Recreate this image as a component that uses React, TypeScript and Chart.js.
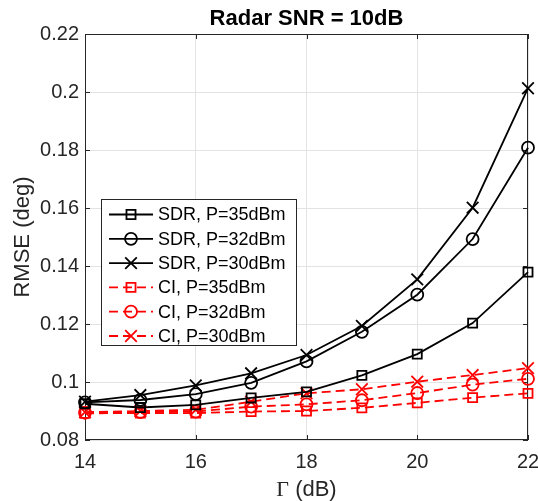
import React, { useEffect, useRef } from "react";
import { Chart, registerables } from "chart.js";

Chart.register(...registerables);

// ---- data ----
const gammaDb = [14, 15, 16, 17, 18, 19, 20, 21, 22];
const sdrP35 = [0.0925, 0.0912, 0.0921, 0.0945, 0.0966, 0.1023, 0.1096, 0.1203, 0.1379];
const sdrP32 = [0.0930, 0.0938, 0.0958, 0.0997, 0.1071, 0.1173, 0.1301, 0.1493, 0.1808];
const sdrP30 = [0.0932, 0.0955, 0.0988, 0.1030, 0.1093, 0.1193, 0.1354, 0.1601, 0.2013];
const ciP35 = [0.0892, 0.0893, 0.0893, 0.0898, 0.0900, 0.0911, 0.0928, 0.0946, 0.0961];
const ciP32 = [0.0894, 0.0896, 0.0898, 0.0915, 0.0923, 0.0937, 0.0962, 0.0991, 0.1011];
const ciP30 = [0.0896, 0.0900, 0.0904, 0.0932, 0.0961, 0.0975, 0.1001, 0.1024, 0.1048];
const seriesLabels = [
  "SDR, P=35dBm",
  "SDR, P=32dBm",
  "SDR, P=30dBm",
  "CI, P=35dBm",
  "CI, P=32dBm",
  "CI, P=30dBm",
];
const titleText = "Radar SNR = 10dB";
const yLabelText = "RMSE (deg)";
const xLabelSymbol = "Γ";
const xLabelRest = " (dB)";

const AXIS = "#262626";
const GRID = "#e3e3e3";
const SANS = "'Liberation Sans', Arial, Helvetica, sans-serif";
const SERIF = "'Liberation Serif', 'Times New Roman', serif";
const DASH = [9, 5];
const LW = 1.8;

type Style = { color: string; shape: string; dashed: boolean; radius: number };
const styles: Style[] = [
  { color: "#000000", shape: "rect", dashed: false, radius: 6.4 },
  { color: "#000000", shape: "circle", dashed: false, radius: 6 },
  { color: "#000000", shape: "crossRot", dashed: false, radius: 8.2 },
  { color: "#ff0000", shape: "rect", dashed: true, radius: 6.4 },
  { color: "#ff0000", shape: "circle", dashed: true, radius: 6 },
  { color: "#ff0000", shape: "crossRot", dashed: true, radius: 8.2 },
];
const seriesValues = [sdrP35, sdrP32, sdrP30, ciP35, ciP32, ciP30];

function drawMarker(ctx: CanvasRenderingContext2D, shape: string, x: number, y: number, r: number) {
  ctx.beginPath();
  if (shape === "rect") {
    const s = Math.SQRT1_2 * r;
    ctx.rect(x - s, y - s, 2 * s, 2 * s);
  } else if (shape === "circle") {
    ctx.arc(x, y, r, 0, Math.PI * 2);
  } else {
    const o = Math.cos(Math.PI / 4) * r;
    ctx.moveTo(x - o, y - o);
    ctx.lineTo(x + o, y + o);
    ctx.moveTo(x - o, y + o);
    ctx.lineTo(x + o, y - o);
  }
  ctx.stroke();
}

const decor = {
  id: "decor",
  beforeDatasetsDraw(chart: any) {
    const { ctx, chartArea: a, scales } = chart;
    ctx.save();
    ctx.strokeStyle = AXIS;
    ctx.lineWidth = 1;
    ctx.strokeRect(Math.round(a.left) + 0.5, Math.round(a.top) + 0.5, Math.round(a.right - a.left) - 1, Math.round(a.bottom - a.top) - 1);
    const tl = 5;
    ctx.beginPath();
    scales.x.ticks.forEach((t: any) => {
      const px = Math.round(scales.x.getPixelForValue(t.value)) + 0.5;
      ctx.moveTo(px, a.bottom);
      ctx.lineTo(px, a.bottom - tl);
      ctx.moveTo(px, a.top);
      ctx.lineTo(px, a.top + tl);
    });
    scales.y.ticks.forEach((t: any) => {
      const py = Math.round(scales.y.getPixelForValue(t.value)) + 0.5;
      ctx.moveTo(a.left, py);
      ctx.lineTo(a.left + tl, py);
      ctx.moveTo(a.right, py);
      ctx.lineTo(a.right - tl, py);
    });
    ctx.stroke();
    ctx.restore();
  },
  afterDraw(chart: any) {
    const { ctx, chartArea: a } = chart;
    ctx.save();
    const cx = (a.left + a.right) / 2;
    // title
    ctx.fillStyle = "#000";
    ctx.font = `bold 22px ${SANS}`;
    ctx.textAlign = "center";
    ctx.textBaseline = "middle";
    ctx.fillText(titleText, cx, 19);
    // x label
    ctx.fillStyle = AXIS;
    ctx.font = `22px ${SERIF}`;
    const w1 = ctx.measureText(xLabelSymbol).width;
    ctx.font = `22px ${SANS}`;
    const w2 = ctx.measureText(xLabelRest).width;
    const x0 = cx - (w1 + w2) / 2;
    ctx.textAlign = "left";
    ctx.font = `22px ${SERIF}`;
    ctx.fillText(xLabelSymbol, x0, 490);
    ctx.font = `22px ${SANS}`;
    ctx.fillText(xLabelRest, x0 + w1, 490);
    // y label
    ctx.save();
    ctx.translate(23, (a.top + a.bottom) / 2);
    ctx.rotate(-Math.PI / 2);
    ctx.textAlign = "center";
    ctx.fillText(yLabelText, 0, 0);
    ctx.restore();
    // legend
    const bx = 101.5, by = 199.5, bw = 195, bh = 146;
    ctx.fillStyle = "#fff";
    ctx.fillRect(bx, by, bw, bh);
    ctx.strokeStyle = AXIS;
    ctx.lineWidth = 1;
    ctx.strokeRect(bx, by, bw, bh);
    ctx.font = `18px ${SANS}`;
    ctx.textAlign = "left";
    ctx.textBaseline = "middle";
    for (let i = 0; i < seriesLabels.length; i++) {
      const st = styles[i];
      const y = 214.5 + i * 24.3;
      ctx.strokeStyle = st.color;
      ctx.lineWidth = LW;
      ctx.setLineDash(st.dashed ? DASH : []);
      ctx.beginPath();
      ctx.moveTo(109, y);
      ctx.lineTo(153, y);
      ctx.stroke();
      ctx.setLineDash([]);
      drawMarker(ctx, st.shape, 131, y, st.radius);
      ctx.fillStyle = "#000";
      ctx.fillText(seriesLabels[i], 158, y + 1);
    }
    ctx.restore();
  },
};

export default function App() {
  const ref = useRef<HTMLCanvasElement>(null);
  useEffect(() => {
    if (!ref.current) return;
    const datasets = seriesValues.map((vals, i) => {
      const st = styles[i];
      return {
        label: seriesLabels[i],
        data: gammaDb.map((g, j) => ({ x: g, y: vals[j] })),
        borderColor: st.color,
        backgroundColor: "rgba(0,0,0,0)",
        borderWidth: LW,
        borderDash: st.dashed ? DASH : [],
        pointStyle: st.shape,
        pointRadius: st.radius,
        pointHoverRadius: st.radius,
        pointBorderColor: st.color,
        pointBackgroundColor: "rgba(0,0,0,0)",
        pointBorderWidth: LW,
        tension: 0,
        fill: false,
        clip: false as any,
      };
    });
    const chart = new Chart(ref.current, {
      type: "line",
      data: { datasets },
      options: {
        animation: false,
        responsive: false,
        devicePixelRatio: 1,
        layout: { padding: { top: 34, right: 9, left: 0, bottom: 0 } },
        plugins: { legend: { display: false }, tooltip: { enabled: false }, title: { display: false } },
        scales: {
          x: {
            type: "linear",
            min: 14,
            max: 22,
            afterFit: (s: any) => {
              s.height = 61;
              s.paddingLeft = 0;
              s.paddingRight = 0;
            },
            ticks: { stepSize: 2, color: AXIS, font: { family: SANS, size: 20 }, padding: 10, maxRotation: 0 },
            grid: { color: GRID, drawTicks: false, lineWidth: 1 },
            border: { display: false },
          },
          y: {
            type: "linear",
            min: 0.08,
            max: 0.22,
            afterFit: (s: any) => {
              s.width = 85;
            },
            ticks: {
              stepSize: 0.02,
              color: AXIS,
              font: { family: SANS, size: 20 },
              padding: 6,
              callback: (v: any) => String(Number(Number(v).toFixed(2))),
            },
            grid: { color: GRID, drawTicks: false, lineWidth: 1 },
            border: { display: false },
          },
        },
      },
      plugins: [decor],
    });
    return () => chart.destroy();
  }, []);
  return (
    <div style={{ position: "fixed", left: 0, top: 0, width: 538, height: 501, background: "#fff" }}>
      <canvas ref={ref} width={538} height={501} style={{ width: 538, height: 501 }} />
    </div>
  );
}
